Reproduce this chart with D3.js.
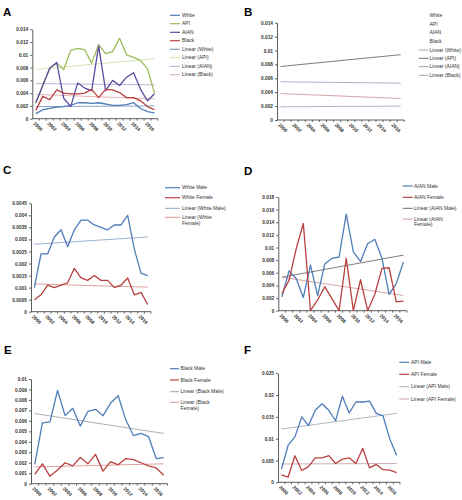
<!DOCTYPE html>
<html><head><meta charset="utf-8">
<script src="https://cdn.jsdelivr.net/npm/d3@7"></script>
<style>
html,body{margin:0;padding:0;background:#fff;}
svg{display:block;font-family:Arial,"Liberation Sans",sans-serif;}
</style></head><body>
<svg id="c" width="462" height="500"></svg>
<script>
// ---------- data ----------
const years = ["2000","2001","2002","2003","2004","2005","2006","2007","2008","2009","2010","2011","2012","2013","2014","2015","2016","2017"];
const yearLabels = ["2000","2002","2004","2006","2008","2010","2012","2014","2016"];

const whiteAll = [0.0008,0.0014,0.0016,0.0018,0.0019,0.0021,0.0025,0.0025,0.0024,0.0025,0.0023,0.0021,0.0021,0.0022,0.0025,0.0016,0.0011,0.0009];
const apiAll   = [0.0024,0.0053,0.0079,0.0087,0.0077,0.0107,0.0110,0.0108,0.0087,0.0116,0.0102,0.0105,0.0126,0.0100,0.0096,0.0091,0.0078,0.0040];
const aianAll  = [0.0025,0.0052,0.0079,0.0088,0.0032,0.0019,0.0056,0.0048,0.0044,0.0114,0.0044,0.0060,0.0052,0.0065,0.0072,0.0046,0.0028,0.0039];
const blackAll = [0.0013,0.0035,0.0030,0.0045,0.0040,0.0039,0.0039,0.0040,0.0046,0.0033,0.0046,0.0045,0.0041,0.0033,0.0033,0.0028,0.0019,0.0014];

const whiteMale   = [0.0010,0.0024,0.0024,0.0031,0.0034,0.0027,0.0034,0.0038,0.0038,0.0036,0.0035,0.0034,0.0036,0.0036,0.0040,0.0026,0.0016,0.0015];
const whiteFemale = [0.0005,0.0007,0.0011,0.0010,0.0011,0.0012,0.0018,0.0014,0.0013,0.0015,0.0013,0.0013,0.0010,0.0011,0.0014,0.0007,0.0008,0.0003];

const aianMale   = [0.0022,0.0063,0.0051,0.0021,0.0072,0.0024,0.0074,0.0083,0.0085,0.0153,0.0093,0.0078,0.0106,0.0113,0.0083,0.0026,0.0043,0.0077];
const aianFemale = [0.0027,0.0048,0.0098,0.0138,0.0000,0.0017,0.0038,0.0019,0.0000,0.0083,0.0000,0.0049,0.0000,0.0026,0.0067,0.0068,0.0014,0.0015];

const blackMale   = [0.00185,0.0058,0.0059,0.0089,0.0065,0.0072,0.0055,0.0069,0.0071,0.0065,0.0077,0.0084,0.0061,0.0046,0.0048,0.0045,0.0024,0.0025];
const blackFemale = [0.0009,0.0019,0.0007,0.0013,0.0020,0.0017,0.0025,0.0019,0.0028,0.0012,0.0021,0.0018,0.0024,0.0023,0.0020,0.0017,0.0015,0.0008];

const apiMale   = [0.0030,0.0085,0.0104,0.0150,0.0130,0.0165,0.0180,0.0165,0.0141,0.0197,0.0159,0.0184,0.0184,0.0186,0.0158,0.0152,0.0099,0.0062];
const apiFemale = [0.0017,0.0012,0.0061,0.0027,0.0036,0.0056,0.0056,0.0061,0.0043,0.0053,0.0056,0.0043,0.0078,0.0033,0.0041,0.0029,0.0028,0.0022];

// linear trend lines: [value at first year, value at last year]
const trendWhite = [0.0019,0.0020];
const trendApi   = [0.0077,0.0094];
const trendAian  = [0.0055,0.0053];
const trendBlack = [0.0038,0.0031];
const trendWhiteMale = [0.0028,0.0031];
const trendWhiteFemale = [0.00115,0.00102];
const trendAianMale = [0.0053,0.0088];
const trendAianFemale = [0.0053,0.0024];
const trendBlackMale = [0.0067,0.0048];
const trendBlackFemale = [0.0016,0.0019];
const trendApiMale = [0.0122,0.0158];
const trendApiFemale = [0.0042,0.0043];

const ticksAB = [0,0.002,0.004,0.006,0.008,0.01,0.012,0.014];
const ticksC  = [0,0.0005,0.001,0.0015,0.002,0.0025,0.003,0.0035,0.004,0.0045];
const ticksD  = [0,0.002,0.004,0.006,0.008,0.01,0.012,0.014,0.016,0.018];
const ticksE  = [0,0.001,0.002,0.003,0.004,0.005,0.006,0.007,0.008,0.009,0.01];
const ticksF  = [0,0.005,0.01,0.015,0.02,0.025];

// ---------- colours ----------
const BLUE="#4F7DB9", RED="#B8413F", GREEN="#9BBB59", PURPLE="#5A4BA0";

const svg = d3.select("#c");
const fmt = v => String(+v.toFixed(6));

function panel(cfg){
  const g = svg.append("g");
  const x = d3.scaleBand().domain(years).range([cfg.x0, cfg.x1]);
  const y = d3.scaleLinear().domain([0, cfg.ticks[cfg.ticks.length-1]]).range([cfg.yB, cfg.yT]);
  const cx = d => x(d) + x.bandwidth()/2;

  g.append("text").attr("x", cfg.lx).attr("y", cfg.ly).text(cfg.letter)
    .attr("font-size", 11.5).attr("font-weight", "bold").attr("fill", "#000");

  // y axis
  const ya = g.append("g").attr("transform", `translate(${cfg.x0},0)`)
    .call(d3.axisLeft(y).tickValues(cfg.ticks).tickSize(2).tickSizeOuter(0).tickPadding(2).tickFormat(fmt));
  ya.attr("font-size", 4.8).attr("font-family", "Arial, sans-serif");
  ya.selectAll("path,line").attr("stroke", "#333").attr("stroke-width", 0.8);
  ya.selectAll("text").attr("fill", "#333").attr("font-weight", "bold");

  // x axis line + boundary ticks
  g.append("line").attr("x1", cfg.x0).attr("x2", cfg.x1).attr("y1", cfg.yB).attr("y2", cfg.yB)
    .attr("stroke", "#333").attr("stroke-width", 0.8);
  g.selectAll(".xt").data(years).enter().append("line")
    .attr("x1", d => x(d) + x.bandwidth()).attr("x2", d => x(d) + x.bandwidth())
    .attr("y1", cfg.yB).attr("y2", cfg.yB + 2).attr("stroke", "#333").attr("stroke-width", 0.7);
  g.selectAll(".xl").data(yearLabels).enter().append("text")
    .attr("transform", d => `translate(${cx(d) - 1.5},${cfg.yB + 4}) rotate(45)`)
    .attr("dy", "0.35em").attr("font-size", 4.8).attr("font-weight", "bold").attr("fill", "#333")
    .text(d => d);

  const line = d3.line().x((d,i) => cx(years[i])).y(d => y(d));
  // trends first (under), then data
  (cfg.trends || []).forEach(t => {
    g.append("path").attr("d", d3.line().x((d,i) => cx(i === 0 ? years[0] : years[years.length-1])).y(d => y(d))(t.v))
      .attr("fill", "none").attr("stroke", t.c).attr("stroke-width", 0.9);
  });
  (cfg.series || []).forEach(s => {
    g.append("path").attr("d", line(s.v)).attr("fill", "none").attr("stroke", s.c)
      .attr("stroke-width", 1.3).attr("stroke-linejoin", "round");
  });

  // legend
  cfg.legend.items.forEach((it, i) => {
    const ry = cfg.legend.ys[i];
    if (it.c) g.append("line").attr("x1", cfg.legend.lx0).attr("x2", cfg.legend.lx1)
      .attr("y1", ry).attr("y2", ry).attr("stroke", it.c).attr("stroke-width", it.w || 1);
    const t = g.append("text").attr("x", cfg.legend.tx).attr("y", ry).attr("dy", "0.35em")
      .attr("font-size", 5).attr("fill", "#333");
    const parts = it.t.split("\n");
    parts.forEach((p, j) => t.append("tspan").attr("x", cfg.legend.tx).attr("dy", j === 0 ? "0.35em" : "1.1em").text(p));
  });
}

// A
panel({letter:"A", lx:3, ly:15.5, x0:32.3, x1:158, yT:29.3, yB:118.7, ticks:ticksAB,
  series:[{v:whiteAll,c:BLUE},{v:apiAll,c:GREEN},{v:aianAll,c:PURPLE},{v:blackAll,c:RED}],
  trends:[{v:trendWhite,c:"#7F9CC4"},{v:trendApi,c:"#D3DFA8"},{v:trendAian,c:"#B4AAD0"},{v:trendBlack,c:"#E2A9A8"}],
  legend:{lx0:170, lx1:180, tx:182, ys:[15.3,23.7,32.3,40.7,49.3,57.7,66.3,74.7],
    items:[{t:"White",c:BLUE,w:1.2},{t:"API",c:GREEN,w:1.2},{t:"AIAN",c:PURPLE,w:1.2},{t:"Black",c:RED,w:1.2},
      {t:"Linear (White)",c:"#6F86AA"},{t:"Linear (API)",c:"#D3DFA8"},{t:"Linear (AIAN)",c:"#B4AAD0"},{t:"Linear (Black)",c:"#D8B0B0"}]}
});

// B
panel({letter:"B", lx:244, ly:15.5, x0:277, x1:404.3, yT:22.7, yB:120, ticks:ticksAB,
  series:[],
  trends:[{v:trendWhite,c:"#9EAFC3"},{v:trendApi,c:"#6E6E6E"},{v:trendAian,c:"#A9A2C2"},{v:trendBlack,c:"#D09C9B"}],
  legend:{lx0:419, lx1:428.5, tx:429.5, ys:[15.3,24,32.7,41.3,50,58.3,66.7,75.3],
    items:[{t:"White"},{t:"API"},{t:"AIAN"},{t:"Black"},
      {t:"Linear (White)",c:"#A8A8A8"},{t:"Linear (API)",c:"#6E6E6E"},{t:"Linear (AIAN)",c:"#A09AB8"},{t:"Linear (Black)",c:"#B8A0A0"}]}
});

// C
panel({letter:"C", lx:3, ly:174.3, x0:31, x1:151, yT:203.3, yB:311.7, ticks:ticksC,
  series:[{v:whiteMale,c:BLUE},{v:whiteFemale,c:RED}],
  trends:[{v:trendWhiteMale,c:"#8FA7C6"},{v:trendWhiteFemale,c:"#D99694"}],
  legend:{lx0:165, lx1:180, tx:182, ys:[187.7,197.7,208.3,217.3],
    items:[{t:"White Male",c:BLUE,w:1.2},{t:"White Female",c:RED,w:1.2},
      {t:"Linear (White Male)",c:"#8FA7C6"},{t:"Linear (White\nFemale)",c:"#D99694"}]}
});

// D
panel({letter:"D", lx:244, ly:175, x0:278.3, x1:407, yT:197, yB:310.7, ticks:ticksD,
  series:[{v:aianMale,c:BLUE},{v:aianFemale,c:RED}],
  trends:[{v:trendAianMale,c:"#6E6E6E"},{v:trendAianFemale,c:"#D09C9B"}],
  legend:{lx0:402.7, lx1:412.7, tx:414, ys:[186,197.3,208.3,219],
    items:[{t:"AIAN Male",c:BLUE,w:1.2},{t:"AIAN Female",c:RED,w:1.2},
      {t:"Linear (AIAN Male)",c:"#6E6E6E"},{t:"Linear (AIAN\nFemale)",c:"#D09C9B"}]}
});

// E
panel({letter:"E", lx:4, ly:353.5, x0:31, x1:167.5, yT:379, yB:483.7, ticks:ticksE,
  series:[{v:blackMale,c:BLUE},{v:blackFemale,c:RED}],
  trends:[{v:trendBlackMale,c:"#A6A6A6"},{v:trendBlackFemale,c:"#D99694"}],
  legend:{lx0:170, lx1:179, tx:180.5, ys:[368.7,380,391.7,402.3],
    items:[{t:"Black Male",c:BLUE,w:1.2},{t:"Black Female",c:RED,w:1.2},
      {t:"Linear (Black Male)",c:"#A6A6A6"},{t:"Linear (Black\nFemale)",c:"#D99694"}]}
});

// F
panel({letter:"F", lx:244, ly:353.5, x0:278, x1:400, yT:373.2, yB:482.3, ticks:ticksF,
  series:[{v:apiMale,c:BLUE},{v:apiFemale,c:RED}],
  trends:[{v:trendApiMale,c:"#A4B0BE"},{v:trendApiFemale,c:"#C8A4AC"}],
  legend:{lx0:399.3, lx1:409.3, tx:411, ys:[362.3,374.3,386.7,399],
    items:[{t:"API Male",c:BLUE,w:1.2},{t:"API Female",c:RED,w:1.2},
      {t:"Linear (API Male)",c:"#A4B0BE"},{t:"Linear (API Female)",c:"#C8A4AC"}]}
});
</script>
</body></html>
